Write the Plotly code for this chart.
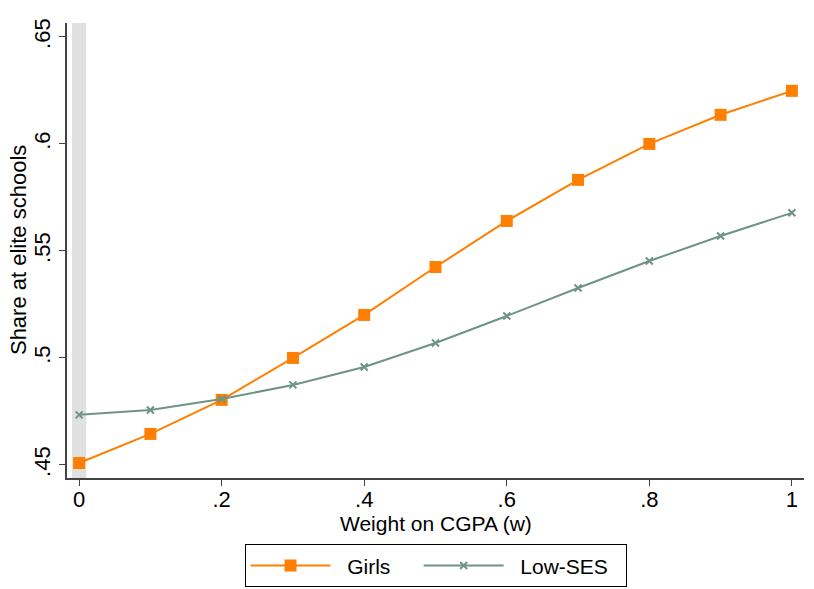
import plotly.graph_objects as go

w = [0, 0.1, 0.2, 0.3, 0.4, 0.5, 0.6, 0.7, 0.8, 0.9, 1.0]
girls = [0.4509, 0.4645, 0.4804, 0.5000, 0.5201, 0.5425, 0.5640, 0.5832, 0.6000, 0.6136, 0.6248]
low_ses = [0.4734, 0.4757, 0.4808, 0.4874, 0.4958, 0.5070, 0.5196, 0.5327, 0.5453, 0.5570, 0.5678]
xticks = [0, 0.2, 0.4, 0.6, 0.8, 1]
xlabels = ["0", ".2", ".4", ".6", ".8", "1"]
yticks = [0.45, 0.5, 0.55, 0.6, 0.65]
ylabels = [".45", ".5", ".55", ".6", ".65"]
x_title = "Weight on CGPA (w)"
y_title = "Share at elite schools"

orange = "#ff7f00"
green = "#6e9484"
NB = "\u00a0"

fig = go.Figure()
fig.add_trace(go.Scatter(x=w, y=girls, name=NB * 2 + "Girls" + NB * 4, mode="lines+markers",
                         line=dict(color=orange, width=2),
                         marker=dict(symbol="square", size=12, color=orange)))
fig.add_trace(go.Scatter(x=w, y=low_ses, name=NB * 2 + "Low-SES" + NB * 2, mode="lines+markers",
                         line=dict(color=green, width=2),
                         marker=dict(symbol="x-thin", size=7, color=green,
                                     line=dict(color=green, width=2))))

fig.add_shape(type="rect", xref="x", yref="paper", x0=-0.01, x1=0.01, y0=0, y1=1,
              fillcolor="#e0e0e0", line=dict(width=0), layer="below")

font = "Liberation Sans, Arial, Helvetica, sans-serif"
fig.update_layout(
    width=814, height=589,
    margin=dict(l=67, r=10, t=23, b=111, autoexpand=False),
    paper_bgcolor="white", plot_bgcolor="white",
    font=dict(family=font, size=21, color="black"),
    showlegend=True,
    legend=dict(orientation="h", x=0.5, xanchor="center", y=-0.146, yanchor="top",
                bordercolor="black", borderwidth=1, font=dict(size=21),
                itemwidth=80, tracegroupgap=0),
    xaxis=dict(range=[-0.017, 1.017], tickvals=xticks, ticktext=xlabels,
               showgrid=False, zeroline=False, showline=True, linecolor="#444",
               linewidth=1.5, ticks="outside", ticklen=6, tickcolor="#444",
               tickfont=dict(size=22), automargin=False, ticklabelstandoff=-5),
    yaxis=dict(range=[0.4439, 0.6565], tickvals=yticks, ticktext=ylabels,
               showgrid=False, zeroline=False, showline=True, linecolor="#444",
               linewidth=1.5, ticks="outside", ticklen=6, tickcolor="#444",
               tickangle=-90, tickfont=dict(size=22), automargin=False),
    annotations=[
        dict(text=x_title, xref="paper", yref="paper", x=0.5007, y=-0.099,
             xanchor="center", yanchor="middle", showarrow=False, font=dict(size=21)),
        dict(text=y_title, xref="paper", yref="paper", x=-0.0665, y=0.501,
             xanchor="center", yanchor="middle", textangle=-90, showarrow=False,
             font=dict(size=22)),
    ],
)

fig.write_html("out.html")
